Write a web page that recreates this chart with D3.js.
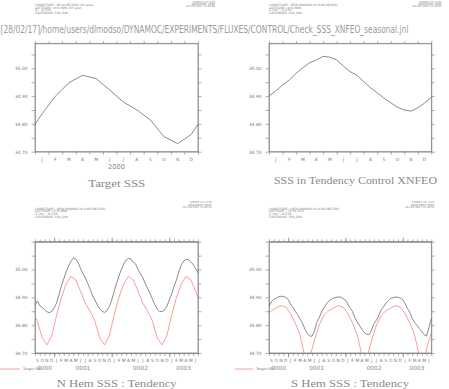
<!DOCTYPE html>
<html>
<head>
<meta charset="utf-8">
<script src="https://cdn.jsdelivr.net/npm/d3@7"></script>
<style>
  body { margin: 0; background: #fff; }
  svg { display: block; }
  .axis path, .axis line { stroke: #7a7a7a; stroke-width: 0.6; }
  .axis text { fill: #777; font-family: "DejaVu Sans", sans-serif; font-size: 4.4px; }
</style>
</head>
<body>
<svg id="chart" width="449" height="389"></svg>
<script>
// DATA
////////////////////////////
var months = ['J','F','M','A','M','J','J','A','S','O','N','D'];
var yLabels = [34.70, 34.80, 34.90, 35.00];        // labelled ticks (minor every 0.05)
var years = ['0000', '0001', '0002', '0003'];       // tendency run years

// Target SSS 0-90N, monthly means Jan..Dec
var targetN = [34.835, 34.900, 34.948, 34.975, 34.963, 34.922, 34.879, 34.850, 34.814, 34.754, 34.729, 34.762];
// Target SSS 70S-0, monthly means Jan..Dec
var targetS = [34.842, 34.808, 34.765, 34.688, 34.682, 34.745, 34.800, 34.835, 34.852, 34.862, 34.870, 34.865];

// SSS in tendency control XNFEO, every half month from 1 Jan to 1 Jan
var controlSSS = [34.900, 34.918, 34.940, 34.958, 34.982, 35.002, 35.020, 35.030, 35.043, 35.040,
                  35.030, 35.008, 34.988, 34.975, 34.952, 34.930, 34.912, 34.893, 34.876, 34.860,
                  34.850, 34.846, 34.858, 34.875, 34.895];

// tendency runs, every half month from 1 Sep 0000 to 1 Jul 0003
var nHemSSS = [34.873, 34.887, 34.870, 34.864, 34.856, 34.848, 34.845, 34.850, 34.862, 34.880,
               34.910, 34.940, 34.966, 34.992, 35.012, 35.030, 35.042, 35.038, 35.025, 35.004,
               34.985, 34.970, 34.950, 34.930, 34.906, 34.890, 34.872, 34.858, 34.850, 34.846,
               34.852, 34.866, 34.890, 34.920, 34.950, 34.976, 35.000, 35.020, 35.034, 35.040,
               35.038, 35.026, 35.020, 35.000, 34.985, 34.970, 34.950, 34.932, 34.915, 34.893,
               34.873, 34.858, 34.849, 34.849, 34.855, 34.868, 34.890, 34.912, 34.940, 34.962,
               34.992, 35.015, 35.030, 35.037, 35.035, 35.028, 35.018, 35.003, 34.988];
var sHemSSS = [34.867, 34.884, 34.893, 34.897, 34.902, 34.904, 34.903, 34.900, 34.893, 34.876,
               34.864, 34.850, 34.838, 34.822, 34.808, 34.787, 34.770, 34.762, 34.760, 34.778,
               34.810, 34.826, 34.848, 34.862, 34.876, 34.886, 34.893, 34.897, 34.900, 34.901,
               34.901, 34.896, 34.890, 34.876, 34.861, 34.849, 34.826, 34.812, 34.797, 34.784,
               34.773, 34.767, 34.766, 34.783, 34.806, 34.818, 34.835, 34.855, 34.866, 34.880,
               34.888, 34.896, 34.899, 34.901, 34.901, 34.897, 34.892, 34.878, 34.860, 34.846,
               34.824, 34.810, 34.800, 34.788, 34.777, 34.766, 34.761, 34.790, 34.825];

var jnl = '[28/02/17]/home/users/dlmodso/DYNAMOC/EXPERIMENTS/FLUXES/CONTROL/Check_SSS_XNFEO_seasonal.jnl';


// SETUP
////////////////////////////
var svg = d3.select('#chart');
var clipId = 0;

// journal file path across the top (small font stretched tall, like ferret's)
svg.append('text')
  .attr('transform', 'translate(0.5,33.3) scale(1,1.3)')
  .attr('textLength', 408).attr('lengthAdjust', 'spacingAndGlyphs')
  .style('font-family', '"DejaVu Sans ExtraLight", "DejaVu Sans", sans-serif').style('font-size', '8px')
  .style('fill', '#9a9a9a')
  .text(jnl);

// monthly climatology -> points at mid month, wrapped one month either side
function monthlyPoints(clim, startMonth, nMonths) {
  var pts = [];
  for (var m = -1; m <= nMonths; m++) {
    var moy = ((startMonth + m) % 12 + 12) % 12;
    pts.push([m + 0.5, clim[moy]]);
  }
  return pts;
}
function halfMonthPoints(vals) {
  return vals.map(function(v, i) { return [i * 0.5, v]; });
}

function drawPanel(o) {
  var g = svg.append('g');
  var x = d3.scaleLinear().domain([0, o.nMonths]).range([o.x0, o.x1]);
  var y = d3.scaleLinear().domain(o.yDomain).range([o.y1, o.y0]);

  // header text (ferret style)
  var hdr = g.append('g').style('font-family', '"DejaVu Sans", sans-serif').style('fill', '#7c7c7c');
  o.header.forEach(function(t, i) {
    hdr.append('text').attr('x', o.x0).attr('y', o.hy + i * 2.6)
      .style('font-size', '3.2px').text(t);
  });
  ['FERRET Ver. 6.93', 'NOAA/PMEL TMAP', o.stamp].forEach(function(t, i) {
    hdr.append('text').attr('x', o.fx).attr('y', o.fy + i * 2.4)
      .attr('text-anchor', 'end').style('font-size', '2.6px').text(t);
  });

  // ticks
  var minor = d3.range(0, 9).map(function(i) { return +(o.yDomain[0] + i * 0.05).toFixed(2); })
    .filter(function(v) { return v <= o.yDomain[1] + 1e-6; });
  var fmtY = function(d) {
    return yLabels.indexOf(d) >= 0 ? d3.format('.2f')(d) : '';
  };
  g.append('g').attr('class', 'axis').attr('transform', 'translate(' + o.x0 + ',0)')
    .call(d3.axisLeft(y).tickValues(minor).tickSize(3.5).tickSizeOuter(0).tickPadding(4).tickFormat(fmtY));
  g.append('g').attr('class', 'axis').attr('transform', 'translate(' + o.x1 + ',0)')
    .call(d3.axisRight(y).tickValues(minor).tickSize(3.5).tickSizeOuter(0).tickFormat(''));

  var mTicks = d3.range(0, o.nMonths + 1);
  g.append('g').attr('class', 'axis').attr('transform', 'translate(0,' + o.y1 + ')')
    .call(d3.axisBottom(x).tickValues(mTicks).tickSize(3).tickSizeOuter(0).tickFormat(''));
  g.append('g').attr('class', 'axis').attr('transform', 'translate(0,' + o.y0 + ')')
    .call(d3.axisTop(x).tickValues(mTicks).tickSize(2.4).tickSizeOuter(0).tickFormat(''));
  if (o.yearTicks) {
    g.append('g').attr('class', 'axis').attr('transform', 'translate(0,' + o.y0 + ')')
      .call(d3.axisTop(x).tickValues(o.yearTicks).tickSize(4.2).tickSizeOuter(0).tickFormat(''));
    g.append('g').attr('class', 'axis').attr('transform', 'translate(0,' + o.y1 + ')')
      .call(d3.axisBottom(x).tickValues(o.yearTicks).tickSize(4.5).tickSizeOuter(0).tickFormat(''));
  }

  // box
  g.append('rect').attr('x', o.x0).attr('y', o.y0)
    .attr('width', o.x1 - o.x0).attr('height', o.y1 - o.y0)
    .style('fill', 'none').style('stroke', '#7a7a7a').style('stroke-width', 0.7);

  // month letters, centred in each month
  var lab = g.append('g').style('font-family', '"DejaVu Sans", sans-serif').style('fill', '#777');
  d3.range(0, o.nMonths).forEach(function(m) {
    lab.append('text').attr('x', x(m + 0.5)).attr('y', o.y1 + o.mDy)
      .attr('text-anchor', 'middle').style('font-size', '4.4px')
      .text(months[(o.startMonth + m) % 12]);
  });
  o.yearLabels.forEach(function(yl) {
    lab.append('text').attr('x', x(yl.at)).attr('y', o.y1 + o.yDy)
      .attr('text-anchor', 'middle').style('font-size', o.yFont + 'px').style('fill', '#888')
      .text(yl.text);
  });

  // data lines
  clipId++;
  g.append('clipPath').attr('id', 'clip' + clipId).append('rect')
    .attr('x', o.x0).attr('y', o.y0).attr('width', o.x1 - o.x0).attr('height', o.y1 - o.y0);
  var line = d3.line().x(function(d) { return x(d[0]); }).y(function(d) { return y(d[1]); });
  o.series.forEach(function(s) {
    g.append('path').datum(s.pts)
      .attr('clip-path', 'url(#clip' + clipId + ')')
      .attr('d', line)
      .style('fill', 'none').style('stroke', s.color).style('stroke-width', 0.7);
  });

  // title
  g.append('text').attr('x', o.tx).attr('y', o.ty)
    .attr('text-anchor', 'middle')
    .attr('textLength', o.tw).attr('lengthAdjust', 'spacingAndGlyphs')
    .style('font-family', '"Liberation Serif", serif').style('font-size', '10.5px')
    .style('fill', '#8a8a8a')
    .text(o.title);
}

var black = '#5a5a5a', red = '#ff7070';

// top left: target
drawPanel({
  x0: 35, x1: 198, y0: 43.3, y1: 151.7, yDomain: [34.70, 35.09],
  nMonths: 12, startMonth: 0, mDy: 8.8, yDy: 17.3, yFont: 6.6,
  yearLabels: [{ at: 6, text: '2000' }],
  header: ['LONGITUDE : 0E to 0E(360) (XY ave)', 'LATITUDE : 0 to 90N (XY ave)', 'Z : -0.539', 'CALENDAR: 360_DAY'],
  hy: 6.2, fx: 215, fy: 2.5, stamp: '28-FEB-2017 12:46:00',
  series: [{ pts: monthlyPoints(targetN, 0, 12), color: black }],
  title: 'Target SSS', tx: 116.7, ty: 186.5, tw: 57
});

// top right: control
drawPanel({
  x0: 269, x1: 431.3, y0: 43.3, y1: 151.7, yDomain: [34.70, 35.09],
  nMonths: 12, startMonth: 0, mDy: 8.8, yDy: 17.3, yFont: 6.6,
  yearLabels: [],
  header: ['LONGITUDE : 0E(0.000000) to 0.0018(360)', 'LATITUDE : 0 to 90N', 'Z (m) : -0.539', 'CALENDAR: 360_DAY'],
  hy: 6.2, fx: 441.5, fy: 2.5, stamp: '28-FEB-2017 12:46:03',
  series: [{ pts: halfMonthPoints(controlSSS), color: black }],
  title: 'SSS in Tendency Control XNFEO', tx: 355.5, ty: 184, tw: 163
});

// bottom left: N Hem tendency
drawPanel({
  x0: 35, x1: 198, y0: 241.7, y1: 353, yDomain: [34.70, 35.10],
  nMonths: 34, startMonth: 8, mDy: 9.3, yDy: 17, yFont: 5.8,
  yearTicks: [4, 16, 28],
  yearLabels: [{ at: 2, text: years[0] }, { at: 10, text: years[1] }, { at: 22, text: years[2] }, { at: 31, text: years[3] }],
  header: ['LONGITUDE : 0E(0.000000) to 0.0019E(360)', 'LATITUDE : 0 to 90N', 'Z (m) : -0.539', 'CALENDAR: 360_DAY'],
  hy: 209.7, fx: 211.7, fy: 203.3, stamp: '28-FEB-2017 12:46:24',
  series: [{ pts: monthlyPoints(targetN, 8, 34), color: red }, { pts: halfMonthPoints(nHemSSS), color: black }],
  title: 'N Hem SSS : Tendency', tx: 116.7, ty: 386.5, tw: 120
});

// bottom right: S Hem tendency
drawPanel({
  x0: 269, x1: 431.3, y0: 241.7, y1: 353, yDomain: [34.70, 35.10],
  nMonths: 34, startMonth: 8, mDy: 9.3, yDy: 17, yFont: 5.8,
  yearTicks: [4, 16, 28],
  yearLabels: [{ at: 2, text: years[0] }, { at: 10, text: years[1] }, { at: 22, text: years[2] }, { at: 31, text: years[3] }],
  header: ['LONGITUDE : 0E(0.000000) to 0.0019E(360)', 'LATITUDE : 70.4S to 0', 'Z (m) : -0.539', 'CALENDAR: 360_DAY'],
  hy: 209.7, fx: 434.3, fy: 203.3, stamp: '28-FEB-2017 12:46:41',
  series: [{ pts: monthlyPoints(targetS, 8, 34), color: red }, { pts: halfMonthPoints(sHemSSS), color: black }],
  title: 'S Hem SSS : Tendency', tx: 350, ty: 386.5, tw: 118
});

// legends (red = target), drawn over the first year label as in the original
[{ x: 0, len: 20 }, { x: 235, len: 18 }].forEach(function(l) {
  svg.append('line').attr('x1', l.x).attr('x2', l.x + l.len).attr('y1', 369).attr('y2', 369)
    .style('stroke', red).style('stroke-width', 0.7);
  svg.append('text').attr('x', l.x + l.len + 3).attr('y', 370.2)
    .style('font-family', '"DejaVu Sans", sans-serif').style('font-size', '3.4px').style('fill', '#777')
    .text('Target SSS');
});
</script>
</body>
</html>
